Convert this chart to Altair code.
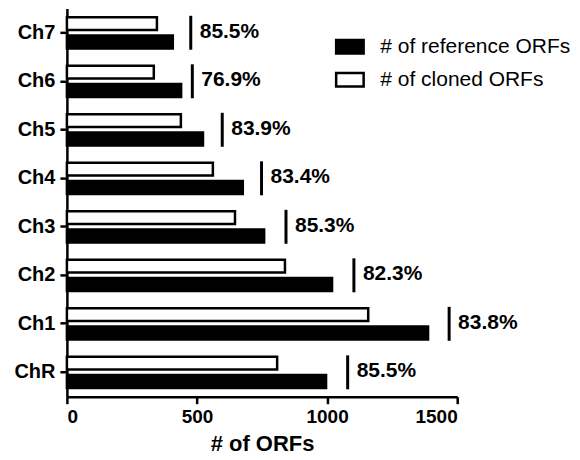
import altair as alt
import pandas as pd

cats = ["Ch7", "Ch6", "Ch5", "Ch4", "Ch3", "Ch2", "Ch1", "ChR"]
reference = [407, 439, 523, 676, 758, 1019, 1388, 996]
cloned = [346, 334, 438, 561, 646, 838, 1158, 808]
marker_x = [476, 482, 597, 748, 842, 1103, 1469, 1079]
pct = ["85.5%", "76.9%", "83.9%", "83.4%", "85.3%", "82.3%", "83.8%", "85.5%"]

REF = "# of reference ORFs"
CLO = "# of cloned ORFs"

rows = []
for c, r, k in zip(cats, reference, cloned):
    rows.append({"chr": c, "series": REF, "value": r})
    rows.append({"chr": c, "series": CLO, "value": k})
bars_df = pd.DataFrame(rows)
lab_df = pd.DataFrame({"chr": cats, "mx": marker_x, "pct": pct})

FONT = "Liberation Sans"

yenc = alt.Y("chr:N", sort=cats, title=None,
             scale=alt.Scale(paddingInner=0.355, paddingOuter=0.18))
xscale = alt.Scale(domain=[0, 1500], nice=False)

bars = alt.Chart(bars_df).mark_bar(stroke="black", strokeWidth=2.5).encode(
    y=yenc,
    yOffset=alt.YOffset("series:N", sort=[CLO, REF],
                        scale=alt.Scale(paddingInner=0.3, paddingOuter=0)),
    x=alt.X("value:Q", scale=xscale, title="# of ORFs",
            axis=alt.Axis(values=[0, 500, 1000, 1500], format="d")),
    fill=alt.Fill("series:N",
                  scale=alt.Scale(domain=[REF, CLO], range=["black", "white"]),
                  legend=alt.Legend(title=None, orient="none", legendX=273, legendY=28,
                                    symbolType="M-2.04,-1H2.04V1H-2.04Z",
                                    symbolSize=182, symbolStrokeColor="black",
                                    symbolStrokeWidth=2.5, labelOffset=20,
                                    rowPadding=8, padding=0,
                                    labelFont=FONT, labelFontSize=21,
                                    labelColor="black", labelLimit=300)),
)

ticks = alt.Chart(lab_df).mark_tick(color="black", opacity=1, thickness=3, size=34,
                                    orient="vertical").encode(
    y=alt.Y("chr:N", sort=cats),
    x=alt.X("mx:Q", scale=xscale),
)

texts = alt.Chart(lab_df).mark_text(align="left", baseline="middle", dx=9, dy=-1,
                                    font=FONT, fontSize=21, fontWeight="bold",
                                    color="black").encode(
    y=alt.Y("chr:N", sort=cats),
    x=alt.X("mx:Q", scale=xscale),
    text="pct:N",
)

chart = alt.layer(bars, ticks, texts).properties(
    width=391, height=389,
    autosize=alt.AutoSizeParams(type="none"),
    padding={"left": 59, "top": 0, "right": 115, "bottom": 60},
).configure_view(stroke=None).configure_axis(
    labelFont=FONT, labelFontSize=19, labelFontWeight="bold", labelColor="black",
    titleFont=FONT, titleFontSize=22, titleFontWeight="bold", titleColor="black",
    domainColor="black", domainWidth=2.5, tickColor="black", tickWidth=2.5,
    tickSize=7, grid=False, labelPadding=4, titlePadding=7,
).configure_axisY(labelPadding=5, labelFontSize=20)

chart.save("out.html", embed_options={"renderer": "svg", "actions": False})
